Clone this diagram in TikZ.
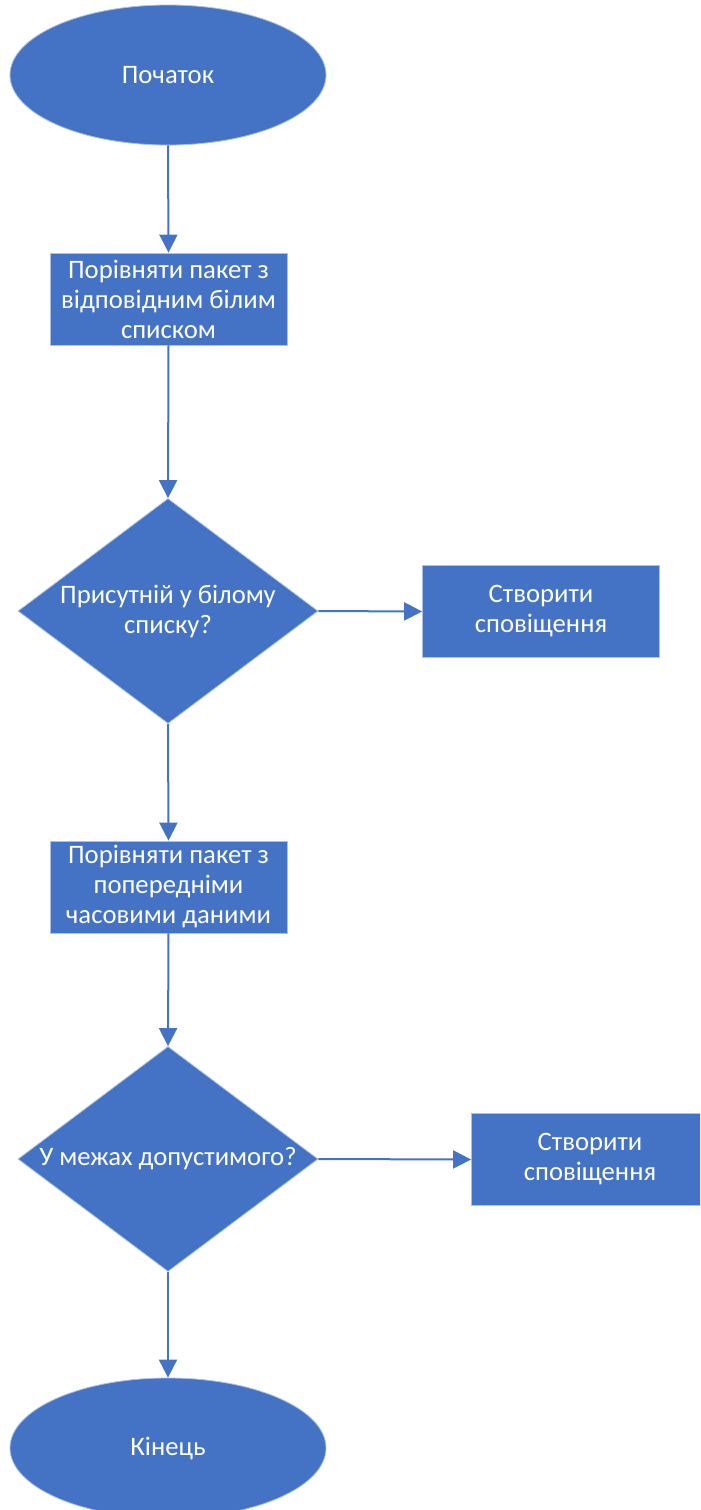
\documentclass[tikz,border=0pt]{standalone}
\usepackage{fontspec}
\setmainfont{Carlito}
\usetikzlibrary{shapes.geometric,arrows.meta}
\definecolor{shapeblue}{HTML}{4472C4}
\begin{document}
\begin{tikzpicture}[x=0.75pt,y=-0.75pt,
  base/.style={fill=shapeblue, draw=shapeblue!45!white, line width=0.6pt,
    text=white, font=\fontsize{20}{22.5}\selectfont, align=center, inner sep=0pt},
  terminal/.style={base, ellipse, minimum width=237pt, minimum height=105pt},
  process/.style={base, rectangle, minimum width=177.75pt, minimum height=69pt},
  decision/.style={base, diamond, minimum width=225pt, minimum height=168.75pt},
  label/.style={text=white, font=\fontsize{20}{22.5}\selectfont, align=center, inner sep=0pt},
  flow/.style={draw=shapeblue, line width=1.5pt, -{Triangle[length=13.5pt,width=13.5pt]}}
]
\useasboundingbox (0,0) rectangle (700,1510);
\fill[white] (0,0) rectangle (700,1510);
\clip (0,0) rectangle (700,1510);

% shapes of the flow chart
\node[terminal] (start) at (168,75) {Початок};
\node[process] (cmpwl) at (168.5,299) {Порівняти пакет з\\відповідним білим\\списком};
\node[decision] (inwl) at (168,611) {};
\node[label] (inwlt) at (inwl) {Присутній у білому\\списку?};
\node[process] (alert1) at (541,611.5) {Створити\\сповіщення};
\node[process] (cmptime) at (168.5,887) {Порівняти пакет з\\попередніми\\часовими даними};
\node[decision] (inrange) at (168,1159) {};
\node[label] (inranget) at (inrange) {У межах допустимого?};
\node[process] (alert2) at (590,1159.5) {Створити\\сповіщення};
\node[terminal] (stop) at (168,1448) {Кінець};

% connectors
\draw[flow] (start.south) -- (cmpwl.north);
\draw[flow] (cmpwl.south) -- (inwl.north);
\draw[flow] (inwl.east) -- (alert1.west);
\draw[flow] (inwl.south) -- (cmptime.north);
\draw[flow] (cmptime.south) -- (inrange.north);
\draw[flow] (inrange.east) -- (alert2.west);
\draw[flow] (inrange.south) -- (stop.north);
\end{tikzpicture}
\end{document}
